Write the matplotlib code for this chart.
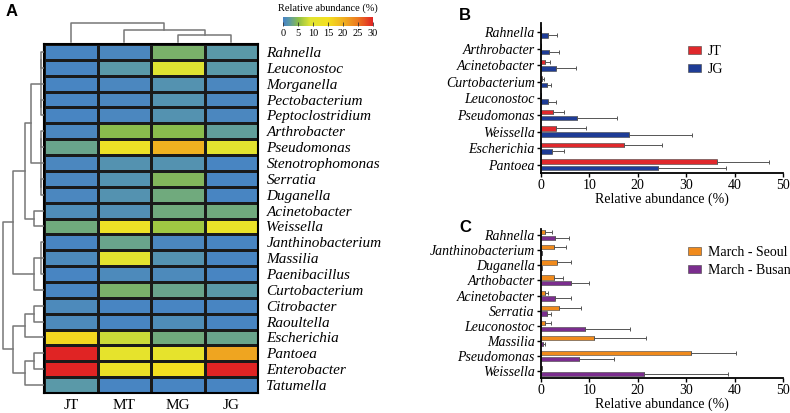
import numpy as np
import matplotlib
matplotlib.use("Agg")
import matplotlib.pyplot as plt
from matplotlib.colors import LinearSegmentedColormap

plt.rcParams['font.family'] = ['Liberation Serif', 'DejaVu Serif']

# ---------------- data ----------------
# heatmap (panel A), rows top to bottom, columns JT MT MG JG
hm_cols = ["JT", "MT", "MG", "JG"]
hm_rows = ["Rahnella", "Leuconostoc", "Morganella", "Pectobacterium", "Peptoclostridium",
           "Arthrobacter", "Pseudomonas", "Stenotrophomonas", "Serratia", "Duganella",
           "Acinetobacter", "Weissella", "Janthinobacterium", "Massilia", "Paenibacillus",
           "Curtobacterium", "Citrobacter", "Raoultella", "Escherichia", "Pantoea",
           "Enterobacter", "Tatumella"]
hm_vals = np.array([
    [0.3, 0.5, 4.0, 2.0],
    [0.3, 2.0, 9.0, 2.0],
    [0.3, 0.5, 1.5, 0.5],
    [0.3, 0.5, 1.5, 0.5],
    [0.3, 0.5, 1.5, 0.5],
    [0.5, 5.0, 5.0, 2.5],
    [3.0, 13.0, 20.0, 10.0],
    [0.5, 1.5, 1.5, 0.3],
    [0.5, 1.5, 4.5, 0.3],
    [0.5, 1.5, 3.5, 0.3],
    [1.0, 1.2, 3.5, 3.5],
    [3.5, 13.0, 6.0, 12.0],
    [0.3, 3.0, 0.5, 0.3],
    [0.8, 10.0, 1.5, 0.3],
    [0.3, 0.8, 0.8, 0.3],
    [0.3, 4.0, 3.0, 2.0],
    [0.8, 0.3, 0.3, 0.3],
    [0.8, 0.3, 1.0, 0.3],
    [16.0, 8.0, 3.5, 3.0],
    [30.0, 11.0, 11.0, 21.0],
    [30.0, 13.0, 15.0, 30.0],
    [2.0, 0.3, 0.3, 0.3],
])

# dendrogram merges: (left, right, height); new cluster ids continue after leaves
row_links = [(0, 1, 3), (3, 4, 3), (22, 23, 3), (24, 2, 3),
             (5, 6, 3), (8, 9, 3), (26, 27, 3), (28, 7, 3),
             (25, 29, 13), (10, 11, 10), (30, 31, 19),
             (12, 14, 3), (33, 13, 3), (34, 15, 10), (32, 35, 31),
             (16, 17, 10), (37, 18, 19), (19, 20, 10), (39, 21, 19),
             (38, 40, 31), (36, 41, 41)]
col_links = [(2, 3, 7), (1, 4, 12), (0, 5, 19)]

# panel B
b_cats = ["Rahnella", "Arthrobacter", "Acinetobacter", "Curtobacterium", "Leuconostoc",
          "Pseudomonas", "Weissella", "Escherichia", "Pantoea"]
b_jt = [0.0, 0.1, 0.75, 0.3, 0.0, 2.5, 3.0, 17.2, 36.3]
b_jt_err = [0.0, 0.0, 1.15, 0.3, 0.0, 2.3, 6.3, 7.8, 10.9]
b_jg = [1.5, 1.7, 3.2, 1.2, 1.4, 7.5, 18.2, 2.35, 24.1]
b_jg_err = [1.8, 2.1, 4.1, 0.9, 1.7, 8.3, 13.0, 2.45, 14.2]

# panel C
c_cats = ["Rahnella", "Janthinobacterium", "Duganella", "Arthobacter", "Acinetobacter",
          "Serratia", "Leuconostoc", "Massilia", "Pseudomonas", "Weissella"]
c_seoul = [0.9, 2.7, 3.25, 2.7, 0.9, 3.7, 0.9, 10.9, 31.0, 0.2]
c_seoul_err = [1.4, 2.5, 3.05, 1.8, 0.55, 4.5, 1.2, 10.8, 9.2, 0.0]
c_busan = [2.9, 0.2, 0.25, 6.2, 2.8, 1.25, 9.0, 0.35, 7.8, 21.3]
c_busan_err = [2.8, 0.0, 0.0, 3.8, 3.4, 0.85, 9.3, 0.55, 7.3, 17.4]

# ---------------- figure ----------------
W, H = 790, 413
fig = plt.figure(figsize=(7.9, 4.13), dpi=100)


def fax(x0, y0, x1, y1):
    return fig.add_axes([x0 / W, 1 - y1 / H, (x1 - x0) / W, (y1 - y0) / H])


cmap = LinearSegmentedColormap.from_list("abund", [
    (0.0, "#4682c6"), (0.07, "#5b9aa6"), (0.17, "#8cbe48"), (0.3, "#e0e432"),
    (0.5, "#f4e020"), (0.67, "#f0b020"), (0.83, "#ec7a20"), (1.0, "#e02424")])

# heatmap
ax = fax(44, 44, 258, 393)
mesh = ax.pcolormesh(hm_vals, cmap=cmap, vmin=0, vmax=30, edgecolors="#1a1a1a", linewidth=1.0)
ax.set_ylim(len(hm_rows), 0)
ax.set_xlim(0, len(hm_cols))
ax.set_xticks(np.arange(len(hm_cols)) + 0.5)
ax.set_xticklabels(hm_cols, fontsize=11)
ax.set_yticks(np.arange(len(hm_rows)) + 0.5)
ax.set_yticklabels(hm_rows, fontsize=11, style="italic")
ax.yaxis.tick_right()
ax.tick_params(length=0, pad=4)
ax.tick_params(axis="y", pad=6)
for s in ax.spines.values():
    s.set_linewidth(1.5)


def draw_dendro(dax, links, n, orient, base=0.0):
    pos = {i: float(i) for i in range(n)}
    hgt = {i: base for i in range(n)}
    for k, (a, b, h) in enumerate(links):
        h = h + base
        xs = [pos[a], pos[a], pos[b], pos[b]]
        ys = [hgt[a], h, h, hgt[b]]
        if orient == "top":
            dax.plot(xs, ys, color="#777777", lw=1.1)
        else:
            dax.plot(ys, xs, color="#777777", lw=1.1)
        pos[n + k] = (pos[a] + pos[b]) / 2
        hgt[n + k] = h


# column dendrogram
dax = fax(44, 20, 258, 44)
draw_dendro(dax, col_links, len(hm_cols), "top", base=2)
dax.set_xlim(-0.5, len(hm_cols) - 0.5)
dax.set_ylim(0, 24)
dax.axis("off")

# row dendrogram
rax = fax(0, 44, 44, 393)
draw_dendro(rax, row_links, len(hm_rows), "left")
rax.set_ylim(len(hm_rows) - 0.5, -0.5)
rax.set_xlim(44, 0)
rax.axis("off")

# colorbar
cax = fax(283, 17, 373, 26)
cb = fig.colorbar(mesh, cax=cax, orientation="horizontal", ticks=np.arange(0, 31, 5))
cb.outline.set_visible(False)
cax.tick_params(direction="in", length=3, width=0.6, color="#333333", labelsize=7.5, pad=2)
fig.text(328 / W, 1 - 8 / H, "Relative abundance (%)", fontsize=7.5, ha="center", va="center")


def bar_panel(bax, cats, v1, e1, v2, e2, c1, c2, l1, l2, top_pad, bot_pad):
    n = len(cats)
    y = np.arange(n)[::-1].astype(float)
    off, bh = 0.19, 0.28
    ekw = dict(ecolor="#555555", elinewidth=0.7, capsize=1.5, capthick=0.7)
    bax.barh(y + off, v1, height=bh, color=c1, edgecolor="#444444", linewidth=0.4,
             xerr=[np.zeros(n), e1], error_kw=ekw, label=l1)
    bax.barh(y - off, v2, height=bh, color=c2, edgecolor="#444444", linewidth=0.4,
             xerr=[np.zeros(n), e2], error_kw=ekw, label=l2)
    bax.set_yticks(y)
    bax.set_yticklabels(cats, fontsize=10, style="italic")
    bax.set_xlim(0, 50)
    bax.set_xticks(np.arange(0, 51, 10))
    bax.set_ylim(-bot_pad, n - 1 + top_pad)
    bax.set_xlabel("Relative abundance (%)", fontsize=10, labelpad=0)
    bax.tick_params(labelsize=10, length=3, width=1, pad=1.5)
    for s in ["top", "right"]:
        bax.spines[s].set_visible(False)
    for s in ["left", "bottom"]:
        bax.spines[s].set_linewidth(1.3)
    return bax


bax = fax(541, 23, 783, 173)
bar_panel(bax, b_cats, b_jt, b_jt_err, b_jg, b_jg_err, "#e0282c", "#1e3c96", "JT", "JG", 0.55, 0.5)
bax.legend(loc="center left", bbox_to_anchor=(0.554, 0.75), frameon=False, fontsize=10,
           handlelength=0.95, handleheight=0.5, handletextpad=0.5, labelspacing=0.35)

cax2 = fax(541, 229, 783, 378)
bar_panel(cax2, c_cats, c_seoul, c_seoul_err, c_busan, c_busan_err, "#f08a1c", "#7b2d8e",
          "March - Seoul", "March - Busan", 0.4, 0.45)
cax2.legend(loc="center left", bbox_to_anchor=(0.554, 0.782), frameon=False, fontsize=10,
            handlelength=0.95, handleheight=0.5, handletextpad=0.5, labelspacing=0.35)

# panel letters
for lab, x, y in [("A", 12, 12), ("B", 465, 15), ("C", 465, 228)]:
    fig.text(x / W, 1 - y / H, lab, fontsize=12, fontweight="bold", family="Liberation Sans",
             ha="center", va="center")

fig.savefig("out.png", dpi=100)
